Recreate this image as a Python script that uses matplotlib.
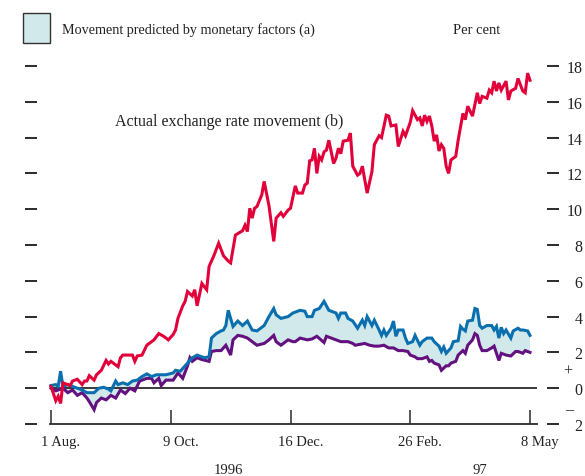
import matplotlib
matplotlib.use("Agg")
import matplotlib.pyplot as plt
import matplotlib.transforms as mtransforms
from matplotlib.patches import Rectangle
import numpy as np

plt.rcParams["font.family"] = ["Liberation Serif", "DejaVu Serif"]
plt.rcParams["font.size"] = 10.5

# trading days since 1 Aug. 1996 (ticks every 50 days)
tick_days = [0, 50, 100, 150, 200]
tick_names = ["1 Aug.", "9 Oct.", "16 Dec.", "26 Feb.", "8 May"]

red_days = [0, 2, 3, 4, 5, 7, 8, 9, 11, 13, 14, 15, 16, 18, 19, 21, 23, 24, 25, 28,
            29, 30, 34, 35, 36, 38, 40, 43, 45, 47, 49, 51, 52, 53, 55, 56, 57, 59, 60, 61,
            63, 65, 66, 68, 70, 72, 74, 75, 77, 80, 81, 82, 83, 84, 85, 86, 88, 89, 91, 93,
            94, 96, 97, 99, 100, 102, 103, 105, 106, 107, 108, 109, 110, 111, 112, 113, 114, 115, 116, 118,
            119, 120, 121, 122, 124, 125, 126, 128, 129, 130, 132, 134, 135, 137, 138, 140, 141, 142, 144, 145,
            147, 148, 150, 151, 153, 154, 155, 156, 157, 158, 159, 160, 161, 162, 163, 164, 165, 166, 167, 169,
            170, 172, 173, 174, 176, 178, 179, 180, 182, 183, 184, 185, 186, 187, 188, 190, 191, 192, 194, 195,
            197, 198, 199, 200]
red_vals = [0.1, -0.7, -0.45, -0.85, 0.3, 0.2, 0.15, 0.4, 0.5, 0.2, 0.4, 0.4, 0.7, 0.45, 0.75, 1.0, 1.55, 1.35, 1.5, 1.2,
            1.7, 1.85, 1.85, 1.5, 1.8, 1.85, 2.4, 2.7, 3.05, 2.9, 2.7, 3.0, 3.25, 3.9, 4.6, 4.85, 5.4, 5.15, 5.5, 4.6,
            5.85, 5.5, 6.8, 7.4, 8.1, 7.4, 7.1, 7.0, 8.55, 8.8, 9.1, 8.75, 10.05, 9.5, 10.05, 10.15, 10.8, 11.55, 10.2, 8.2,
            9.5, 9.8, 9.6, 9.95, 10.05, 11.3, 10.9, 10.9, 11.35, 11.45, 12.7, 12.75, 13.4, 12.0, 12.95, 12.75, 13.2, 13.3, 13.85, 12.55,
            12.85, 13.4, 13.1, 13.8, 13.85, 14.25, 12.4, 11.9, 12.0, 12.4, 10.9, 12.1, 13.6, 14.1, 14.0, 15.25, 15.2, 14.65, 14.7, 13.5,
            14.35, 14.1, 14.85, 15.5, 15.0, 15.1, 14.65, 15.25, 14.9, 15.2, 14.65, 13.8, 14.15, 13.25, 13.6, 13.4, 12.4, 12.0, 12.75, 12.95,
            13.85, 15.35, 15.0, 15.75, 15.2, 16.5, 15.9, 16.3, 16.2, 16.65, 16.5, 17.15, 16.6, 17.05, 16.65, 17.15, 16.1, 16.6, 16.75, 17.3,
            16.6, 16.5, 17.6, 17.2]

blue_days = [0, 2, 3, 4, 5, 7, 9, 11, 13, 15, 18, 20, 22, 24, 25, 27, 28, 30, 32, 34,
             36, 38, 40, 42, 44, 46, 48, 51, 52, 54, 56, 59, 61, 62, 64, 66, 67, 69, 71, 72,
             73, 74, 76, 78, 80, 82, 84, 86, 89, 91, 93, 94, 96, 99, 101, 104, 106, 107, 109, 110,
             112, 114, 115, 116, 119, 120, 121, 123, 124, 126, 128, 130, 131, 132, 134, 135, 137, 138, 139, 140,
             142, 143, 144, 145, 147, 148, 149, 151, 152, 154, 155, 157, 159, 160, 162, 163, 164, 165, 167, 168,
             170, 171, 172, 173, 174, 176, 177, 178, 179, 180, 182, 184, 185, 186, 187, 188, 189, 190, 192, 193,
             195, 196, 197, 199, 200]
blue_vals = [0.15, 0.2, 0.1, 0.95, 0.1, 0.2, 0.1, 0.0, -0.1, -0.25, -0.25, 0.0, 0.05, -0.05, -0.15, 0.4, 0.2, 0.3, 0.2, 0.4,
             0.45, 0.65, 0.8, 0.65, 0.75, 0.75, 0.75, 0.85, 1.0, 0.95, 1.25, 1.7, 1.85, 1.8, 1.7, 1.75, 2.8, 3.05, 3.2, 3.25,
             3.5, 4.35, 3.45, 3.75, 3.5, 3.75, 3.25, 3.2, 3.5, 4.0, 4.45, 4.1, 3.9, 4.0, 4.2, 4.35, 4.3, 4.0, 4.0, 4.35,
             4.45, 4.85, 4.6, 4.35, 4.2, 3.9, 4.2, 4.2, 3.9, 3.75, 3.35, 3.8, 3.5, 4.0, 3.5, 3.8, 3.25, 2.95, 3.25, 2.95,
             3.35, 3.75, 2.9, 3.25, 3.25, 2.8, 2.5, 2.6, 2.95, 2.4, 2.6, 2.8, 2.8, 2.6, 2.35, 2.05, 2.3, 1.95, 2.25, 2.6,
             2.65, 3.45, 3.3, 3.2, 3.75, 3.8, 4.45, 4.4, 3.5, 3.35, 3.5, 3.5, 3.25, 3.45, 2.8, 3.4, 3.05, 3.25, 2.8, 3.2,
             3.35, 3.25, 3.25, 3.2, 2.95]

purple_days = [0, 2, 5, 7, 9, 11, 13, 15, 16, 18, 19, 21, 23, 25, 27, 29, 31, 33, 35, 37,
               40, 42, 43, 45, 46, 48, 51, 53, 55, 57, 58, 59, 61, 63, 66, 67, 69, 71, 73, 75,
               76, 78, 80, 82, 84, 86, 89, 91, 93, 94, 96, 99, 101, 102, 104, 107, 109, 111, 114, 115,
               117, 119, 121, 124, 126, 127, 129, 131, 133, 135, 137, 139, 141, 143, 145, 147, 149, 150, 152, 153,
               155, 157, 158, 159, 160, 162, 163, 165, 166, 167, 169, 170, 172, 173, 174, 176, 177, 178, 179, 180,
               182, 184, 185, 186, 187, 188, 190, 192, 194, 195, 197, 198, 200]
purple_vals = [0.0, -0.15, 0.0, -0.25, -0.1, -0.4, -0.25, -0.55, -0.75, -1.2, -0.8, -0.55, -0.65, -0.4, -0.55, -0.1, -0.3, 0.0, -0.15, 0.4,
               0.55, 0.55, 0.3, 0.55, 0.15, 0.45, 0.45, 0.85, 0.55, 1.25, 1.7, 1.5, 1.7, 1.6, 1.5, 2.05, 2.1, 2.1, 2.4, 1.85,
               2.7, 2.95, 2.9, 2.8, 2.6, 2.4, 2.5, 2.7, 2.95, 2.6, 2.4, 2.7, 2.6, 2.6, 2.8, 2.7, 2.75, 2.9, 2.55, 2.9,
               2.8, 2.7, 2.6, 2.6, 2.5, 2.4, 2.45, 2.5, 2.4, 2.35, 2.35, 2.4, 2.25, 2.25, 2.1, 2.1, 2.05, 1.85, 1.75, 1.65,
               1.65, 1.75, 1.5, 1.55, 1.4, 1.3, 1.0, 1.25, 1.25, 1.4, 1.5, 1.85, 2.1, 1.95, 2.4, 2.7, 3.05, 2.95, 2.4, 2.1,
               2.1, 2.25, 2.35, 1.95, 1.55, 1.95, 1.85, 1.8, 2.05, 2.05, 1.95, 2.1, 2.0]

y_ticks = [-2, 0, 2, 4, 6, 8, 10, 12, 14, 16, 18]
y_labels = ["2", "0", "2", "4", "6", "8", "10", "12", "14", "16", "18"]

red = "#e2003a"
blue = "#0a6fae"
purple = "#63117f"
fill = "#d1e9eb"
dark = "#2b2b2b"

fig = plt.figure(figsize=(5.85, 4.77), dpi=100)
ax = fig.add_axes([37 / 585, 1 - 425 / 477, 510 / 585, 367 / 477])
ax.set_xlim(-5.85, 207.1)
ax.set_ylim(-2, 18.5)

# shaded band between the two predicted lines
ax.fill(np.concatenate([blue_days, purple_days[::-1]]),
        np.concatenate([blue_vals, purple_vals[::-1]]),
        color=fill, lw=0, zorder=1)
ax.hlines(0, -0.4, 202.9, color=dark, lw=1.3, zorder=2)
ax.plot(purple_days, purple_vals, color=purple, lw=2.2, zorder=3, solid_joinstyle="miter")
ax.plot(blue_days, blue_vals, color=blue, lw=2.2, zorder=4, solid_joinstyle="miter")
ax.plot(red_days, red_vals, color=red, lw=2.2, zorder=5, solid_joinstyle="miter")

for s in ["top", "left", "right"]:
    ax.spines[s].set_visible(False)
ax.spines["bottom"].set_bounds(-0.4, 202.9)
ax.spines["bottom"].set_color(dark)
ax.spines["bottom"].set_linewidth(1.3)

ax.set_xticks(tick_days)
ax.set_xticklabels(tick_names)
ax.tick_params(axis="x", direction="in", length=10, width=1.1, colors=dark, pad=8, labelsize=10.5)
shift = mtransforms.ScaledTranslation(0.10, 0, fig.dpi_scale_trans)
for lab in ax.get_xticklabels():
    lab.set_transform(lab.get_transform() + shift)
    lab.set_color("#222222")

ax.set_yticks(y_ticks)
ax.set_yticklabels(y_labels)
ax.tick_params(axis="y", which="both", left=True, right=True, labelleft=False, labelright=True,
               direction="out", length=8.5, width=1.4, colors=dark, pad=17, labelsize=11.5)
for lab in ax.get_yticklabels():
    lab.set_horizontalalignment("right")
    lab.set_color("#222222")

# signs beside the zero line
fig.text(568 / 585, 1 - 372 / 477, "+", ha="center", va="center", fontsize=11.5, color="#222222")
fig.text(569 / 585, 1 - 410 / 477, "\u2013", ha="center", va="center", fontsize=11.5, color="#222222")

fig.text(228 / 585, 1 - 471 / 477, "1996", ha="center", va="center", fontsize=10.5, color="#222222")
fig.text(480 / 585, 1 - 471 / 477, "97", ha="center", va="center", fontsize=10.5, color="#222222")

fig.patches.append(Rectangle((23 / 585, 1 - 44 / 477), 27 / 585, 30 / 477, transform=fig.transFigure,
                             facecolor=fill, edgecolor="#333333", lw=1.0))
fig.text(62 / 585, 1 - 30 / 477, "Movement predicted by monetary factors (a)", ha="left", va="center",
         fontsize=10.2, color="#222222")
fig.text(453 / 585, 1 - 30 / 477, "Per cent", ha="left", va="center", fontsize=10.5, color="#222222")
fig.text(115 / 585, 1 - 122 / 477, "Actual exchange rate movement (b)", ha="left", va="center",
         fontsize=11.5, color="#222222")

fig.savefig("out.png", dpi=100)
